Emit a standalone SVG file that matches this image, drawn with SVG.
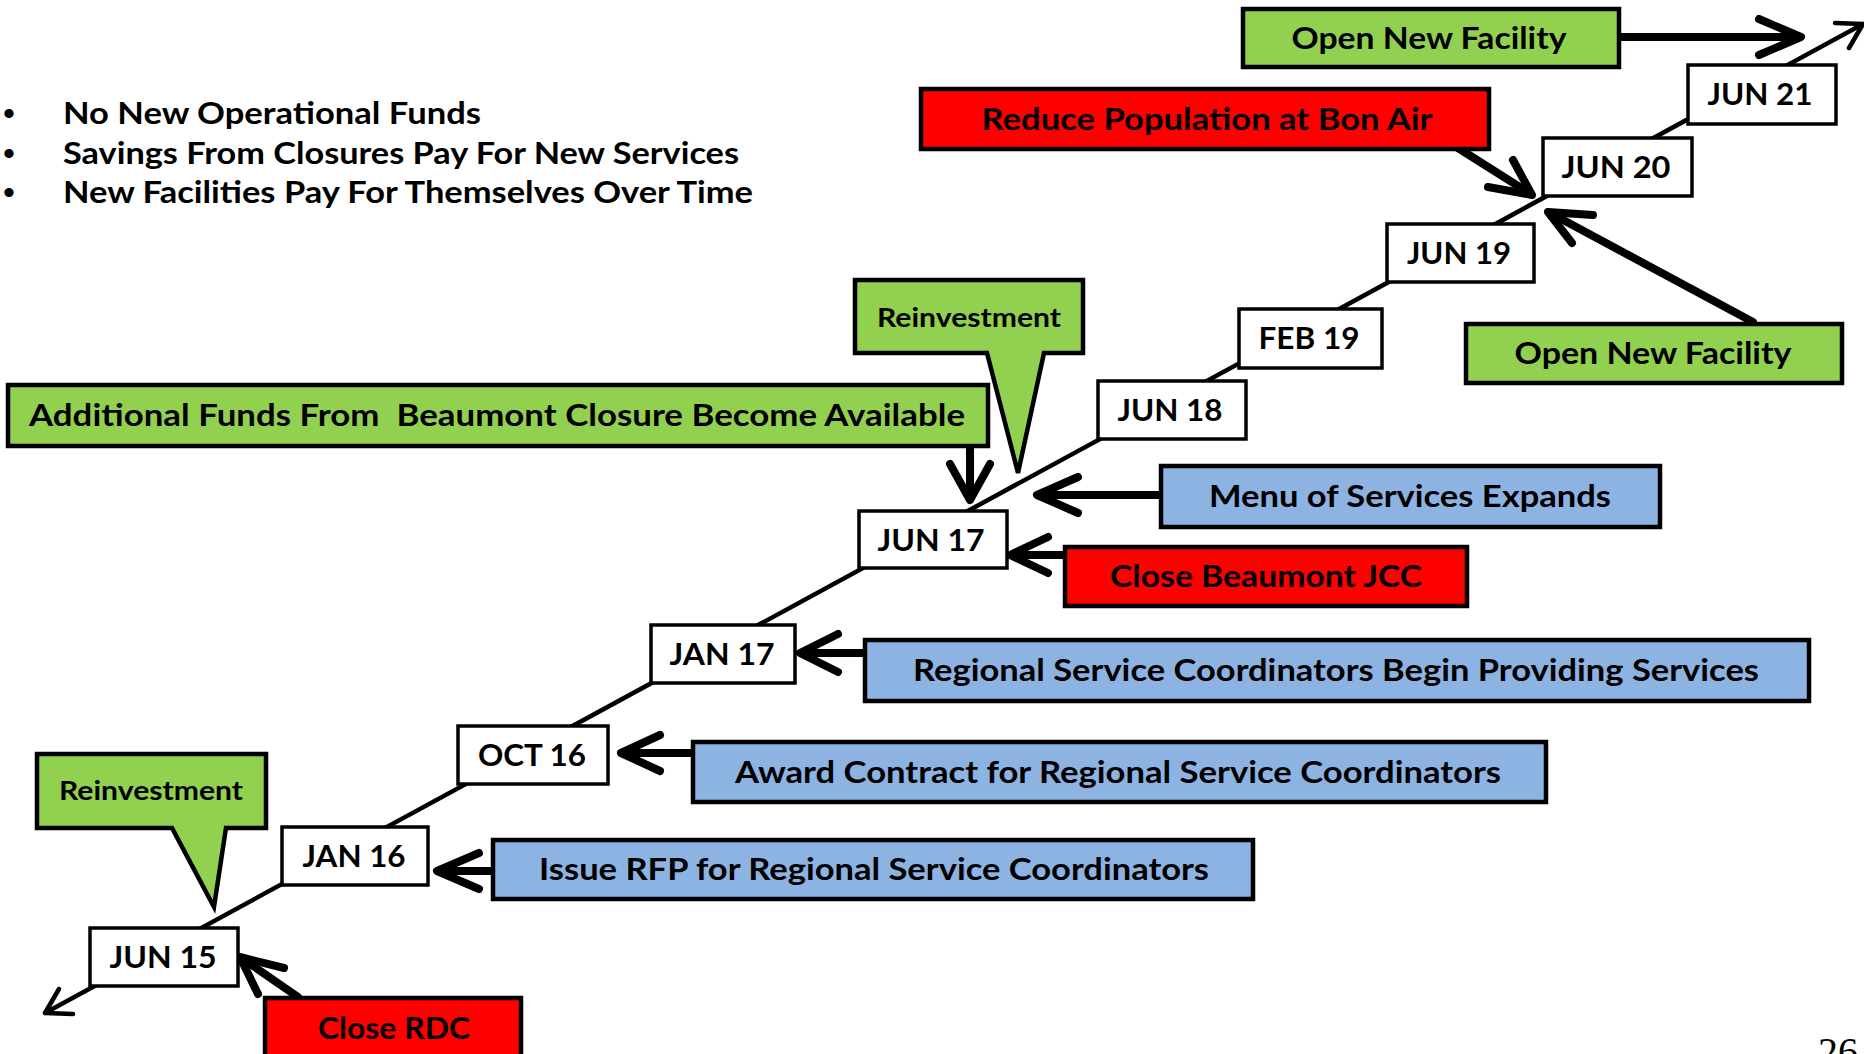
<svg xmlns="http://www.w3.org/2000/svg" width="1864" height="1054" viewBox="0 0 1864 1054">
<style>
.lbl{font-family:Lato,"Open Sans","Liberation Sans",sans-serif;font-weight:bold;font-size:30px;fill:#000;text-anchor:middle}
.bul{font-family:Lato,"Open Sans","Liberation Sans",sans-serif;font-weight:bold;font-size:30px;fill:#000}
.dot{font-family:"Liberation Sans",sans-serif;font-size:34px;fill:#000}
.rein{font-family:Lato,"Open Sans","Liberation Sans",sans-serif;font-weight:bold;font-size:26px;fill:#000;text-anchor:middle}
.date rect{fill:#fff;stroke:#000;stroke-width:3.5}
.green{fill:#92D050;stroke:#000;stroke-width:4.5}
.red{fill:#FF0000;stroke:#000;stroke-width:4.5}
.blue{fill:#8DB3E2;stroke:#000;stroke-width:4.5}
.shaft{fill:none;stroke:#000;stroke-width:8;stroke-linecap:round;stroke-linejoin:round}
.tl{fill:none;stroke:#000;stroke-width:4.5;stroke-linecap:round;stroke-linejoin:round}
</style>
<rect width="1864" height="1054" fill="#fff"/>

<g id="bullets">
<text class="dot" x="3" y="125">•</text>
<text class="bul" x="63" y="124" textLength="418" lengthAdjust="spacingAndGlyphs">No New Operational Funds</text>
<text class="dot" x="3" y="165">•</text>
<text class="bul" x="63" y="164" textLength="676" lengthAdjust="spacingAndGlyphs">Savings From Closures Pay For New Services</text>
<text class="dot" x="3" y="204">•</text>
<text class="bul" x="63" y="203" textLength="690" lengthAdjust="spacingAndGlyphs">New Facilities Pay For Themselves Over Time</text>
</g>

<g id="connectors">
<g id="timeline">
<line class="tl" x1="45" y1="1013" x2="1863" y2="24"/>
<polyline class="tl" points="1835,23 1863,24 1849,48"/>
<polyline class="tl" points="73,1014 45,1013 59,989"/>
</g>
<g id="arrow-open-top"><line class="shaft" x1="1619" y1="37" x2="1798" y2="37"/><polyline class="shaft" points="1759,19 1801,37 1759,55"/></g>
<g id="arrow-reduce"><line class="shaft" x1="1458" y1="148" x2="1529" y2="193"/><polyline class="shaft" points="1488,187 1532,195 1513,160"/></g>
<g id="arrow-open-low"><line class="shaft" x1="1753" y1="322" x2="1552" y2="214"/><polyline class="shaft" points="1593,215 1548,212 1572,243"/></g>
<g id="arrow-funds"><line class="shaft" x1="970" y1="446" x2="970" y2="497"/><polyline class="shaft" points="950,464 970,500 990,464"/></g>
<g id="arrow-menu"><line class="shaft" x1="1161" y1="495" x2="1040" y2="495"/><polyline class="shaft" points="1078,477 1037,495 1078,513"/></g>
<g id="arrow-beaumont"><line class="shaft" x1="1065" y1="555" x2="1013" y2="555"/><polyline class="shaft" points="1048,537 1010,555 1048,573"/></g>
<g id="arrow-regional"><line class="shaft" x1="865" y1="653" x2="803" y2="653"/><polyline class="shaft" points="838,634 800,653 838,672"/></g>
<g id="arrow-award"><line class="shaft" x1="693" y1="753" x2="624" y2="753"/><polyline class="shaft" points="660,735 621,753 660,771"/></g>
<g id="arrow-rfp"><line class="shaft" x1="493" y1="871" x2="440" y2="871"/><polyline class="shaft" points="479,853 437,871 479,889"/></g>
<g id="arrow-rdc"><line class="shaft" x1="298" y1="997" x2="243" y2="959"/><polyline class="shaft" points="284,968 240,957 258,994"/></g>
</g>

<g id="date-jun15" class="date"><rect x="90" y="928" width="148" height="58"/><text class="lbl" x="163" y="968" textLength="107" lengthAdjust="spacingAndGlyphs">JUN 15</text></g>
<g id="date-jan16" class="date"><rect x="282" y="827" width="146" height="58"/><text class="lbl" x="354" y="867" textLength="103" lengthAdjust="spacingAndGlyphs">JAN 16</text></g>
<g id="date-oct16" class="date"><rect x="458" y="726" width="150" height="58"/><text class="lbl" x="532" y="766" textLength="108" lengthAdjust="spacingAndGlyphs">OCT 16</text></g>
<g id="date-jan17" class="date"><rect x="651" y="625" width="144" height="58"/><text class="lbl" x="722" y="665" textLength="105" lengthAdjust="spacingAndGlyphs">JAN 17</text></g>
<g id="date-jun17" class="date"><rect x="859" y="511" width="148" height="57"/><text class="lbl" x="931" y="551" textLength="107" lengthAdjust="spacingAndGlyphs">JUN 17</text></g>
<g id="date-jun18" class="date"><rect x="1098" y="381" width="148" height="58"/><text class="lbl" x="1170" y="421" textLength="105" lengthAdjust="spacingAndGlyphs">JUN 18</text></g>
<g id="date-feb19" class="date"><rect x="1239" y="309" width="143" height="59"/><text class="lbl" x="1309" y="349" textLength="101" lengthAdjust="spacingAndGlyphs">FEB 19</text></g>
<g id="date-jun19" class="date"><rect x="1387" y="224" width="147" height="58"/><text class="lbl" x="1459" y="264" textLength="104" lengthAdjust="spacingAndGlyphs">JUN 19</text></g>
<g id="date-jun20" class="date"><rect x="1543" y="138" width="149" height="58"/><text class="lbl" x="1616" y="178" textLength="109" lengthAdjust="spacingAndGlyphs">JUN 20</text></g>
<g id="date-jun21" class="date"><rect x="1688" y="65" width="148" height="59"/><text class="lbl" x="1760" y="105" textLength="105" lengthAdjust="spacingAndGlyphs">JUN 21</text></g>

<g id="open-facility-top"><rect class="green" x="1243" y="9" width="376" height="58"/><text class="lbl" x="1429" y="49" textLength="275" lengthAdjust="spacingAndGlyphs">Open New Facility</text></g>
<g id="reduce-bon-air"><rect class="red" x="921" y="89" width="568" height="60"/><text class="lbl" x="1207" y="130" textLength="451" lengthAdjust="spacingAndGlyphs">Reduce Population at Bon Air</text></g>
<g id="open-facility-low"><rect class="green" x="1466" y="324" width="376" height="59"/><text class="lbl" x="1653" y="364" textLength="277" lengthAdjust="spacingAndGlyphs">Open New Facility</text></g>
<g id="reinvestment-upper"><polygon class="green" points="855,280 1083,280 1083,353 1044,353 1018,473 987,353 855,353"/><text class="rein" x="969" y="327" textLength="184" lengthAdjust="spacingAndGlyphs">Reinvestment</text></g>
<g id="additional-funds"><rect class="green" x="8" y="385" width="980" height="61"/><text class="lbl" x="497" y="426" textLength="936" lengthAdjust="spacingAndGlyphs" xml:space="preserve">Additional Funds From  Beaumont Closure Become Available</text></g>
<g id="menu-services"><rect class="blue" x="1161" y="466" width="499" height="61"/><text class="lbl" x="1410" y="507" textLength="402" lengthAdjust="spacingAndGlyphs">Menu of Services Expands</text></g>
<g id="close-beaumont"><rect class="red" x="1065" y="547" width="402" height="59"/><text class="lbl" x="1266" y="587" textLength="312" lengthAdjust="spacingAndGlyphs">Close Beaumont JCC</text></g>
<g id="regional-begin"><rect class="blue" x="865" y="640" width="944" height="61"/><text class="lbl" x="1336" y="681" textLength="846" lengthAdjust="spacingAndGlyphs">Regional Service Coordinators Begin Providing Services</text></g>
<g id="award-contract"><rect class="blue" x="693" y="742" width="853" height="60"/><text class="lbl" x="1118" y="783" textLength="766" lengthAdjust="spacingAndGlyphs">Award Contract for Regional Service Coordinators</text></g>
<g id="issue-rfp"><rect class="blue" x="493" y="840" width="760" height="59"/><text class="lbl" x="874" y="880" textLength="670" lengthAdjust="spacingAndGlyphs">Issue RFP for Regional Service Coordinators</text></g>
<g id="reinvestment-lower"><polygon class="green" points="37,754 266,754 266,828 226,828 214,907 172,828 37,828"/><text class="rein" x="151" y="800" textLength="184" lengthAdjust="spacingAndGlyphs">Reinvestment</text></g>
<g id="close-rdc"><rect class="red" x="265" y="998" width="256" height="62"/><text class="lbl" x="394" y="1039" textLength="152" lengthAdjust="spacingAndGlyphs">Close RDC</text></g>

<text x="1818" y="1065" font-family="'Liberation Serif',serif" font-size="40" fill="#000">26</text>
</svg>
